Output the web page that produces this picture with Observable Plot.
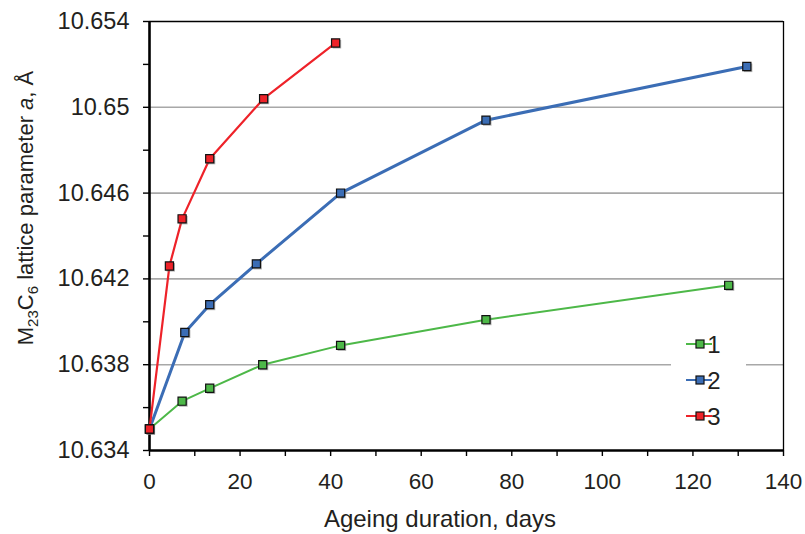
<!DOCTYPE html>
<html>
<head>
<meta charset="utf-8">
<script src="https://cdn.jsdelivr.net/npm/d3@7"></script>
<script src="https://cdn.jsdelivr.net/npm/@observablehq/plot@0.6"></script>
<style>
  html, body { margin: 0; padding: 0; background: #fff; }
  #chart { width: 805px; height: 534px; }
</style>
</head>
<body>
<div id="chart"></div>
<script>
// ---- data ----
const seriesNames = ["1", "2", "3"];
const seriesColors = ["#4db848", "#3b6db5", "#ee2229"];
const seriesWidths = [2, 3, 2.2];

const days1 = [0, 7.2, 13.3, 25.0, 42.2, 74.3, 127.9];
const lat1  = [10.635, 10.6363, 10.6369, 10.6380, 10.6389, 10.6401, 10.6417];

const days2 = [0, 7.8, 13.3, 23.6, 42.2, 74.3, 131.9];
const lat2  = [10.635, 10.6395, 10.6408, 10.6427, 10.6460, 10.6494, 10.6519];

const days3 = [0, 4.4, 7.2, 13.3, 25.2, 41.1];
const lat3  = [10.635, 10.6426, 10.6448, 10.6476, 10.6504, 10.6530];

const xMajorTicks = [0, 20, 40, 60, 80, 100, 120, 140];
const xMinorTicks = [10, 30, 50, 70, 90, 110, 130];
const yMajorTicks = [10.634, 10.638, 10.642, 10.646, 10.65, 10.654];
const yMinorTicks = [10.636, 10.64, 10.644, 10.648, 10.652];
const yGridTicks  = [10.638, 10.642, 10.646, 10.65];

const xTitle = "Ageing duration, days";

// ---- build table ----
const allDays = [days1, days2, days3];
const allLat = [lat1, lat2, lat3];
const rows = seriesNames.map((s, i) => allDays[i].map((d, j) => ({series: s, day: d, a: allLat[i][j]})));
const data = rows.flat();

const font = "'Liberation Sans', Arial, sans-serif";
const textColor = "#231f20";

const lineMarks = rows.map((r, i) => Plot.line(r, {x: "day", y: "a", stroke: seriesColors[i], strokeWidth: seriesWidths[i]}));

const chart = Plot.plot({
  width: 805,
  height: 534,
  marginLeft: 149,
  marginRight: 22,
  marginTop: 21,
  marginBottom: 84,
  style: {fontFamily: font, fontSize: "22px", color: textColor, background: "#fff", overflow: "visible"},
  x: {domain: [0, 140]},
  y: {domain: [10.634, 10.654]},
  color: {domain: seriesNames, range: seriesColors},
  marks: [
    Plot.gridY(yGridTicks, {stroke: "#a8a8a8", strokeOpacity: 1, strokeWidth: 1.6}),
    Plot.ruleY([10.654], {stroke: "#000", strokeWidth: 1.3}),
    Plot.ruleX([140], {stroke: "#000", strokeWidth: 1.3}),
    Plot.axisY(yMajorTicks, {tickSize: 6, tickPadding: 14, strokeWidth: 1.4, stroke: "#000", tickFormat: d3.format(""), label: null, fontSize: 23.5, fill: textColor}),
    Plot.axisY(yMinorTicks, {tickSize: 6, strokeWidth: 1.4, stroke: "#000", tickFormat: () => "", label: null}),
    Plot.axisX(xMajorTicks, {tickSize: 6, tickPadding: 17, strokeWidth: 1.4, stroke: "#000", label: null, fontSize: 22.5, fill: textColor}),
    Plot.axisX(xMinorTicks, {tickSize: 6, strokeWidth: 1.4, stroke: "#000", tickFormat: () => "", label: null}),
    Plot.ruleX([0], {stroke: "#000", strokeWidth: 2.6}),
    Plot.ruleY([10.634], {stroke: "#000", strokeWidth: 2.6}),
    ...lineMarks,
    Plot.dot(data, {x: "day", y: "a", symbol: "square", r: 4.8, fill: "#777", fillOpacity: 0.55, dx: 1.3, dy: 1.3}),
    Plot.dot(data, {x: "day", y: "a", symbol: "square", r: 4.6, fill: "series", stroke: "#111", strokeWidth: 1.2})
  ]
});

document.getElementById("chart").appendChild(chart);

const svg = d3.select(chart);

// x axis title
svg.append("text")
  .attr("x", 440).attr("y", 527)
  .attr("text-anchor", "middle")
  .attr("font-family", font).attr("font-size", 24).attr("fill", textColor)
  .text(xTitle);

// y axis title with subscripts
const yt = svg.append("text")
  .attr("transform", "translate(33,208) rotate(-90)")
  .attr("text-anchor", "middle")
  .attr("font-family", font).attr("font-size", 22).attr("fill", textColor);
yt.append("tspan").text("M");
yt.append("tspan").attr("font-size", 15).attr("dy", 5).text("23");
yt.append("tspan").attr("dy", -5).text("C");
yt.append("tspan").attr("font-size", 15).attr("dy", 5).text("6");
yt.append("tspan").attr("dy", -5).text(" lattice parameter ");
yt.append("tspan").attr("font-style", "italic").text("a");
yt.append("tspan").text(", Å");

// legend
const lg = svg.append("g");
lg.append("rect").attr("x", 671).attr("y", 326).attr("width", 75).attr("height", 106).attr("fill", "#fff");
seriesNames.forEach((s, i) => {
  const cy = 344 + i * 36;
  lg.append("line").attr("x1", 686).attr("x2", 712).attr("y1", cy).attr("y2", cy)
    .attr("stroke", seriesColors[i]).attr("stroke-width", 2);
  lg.append("rect").attr("x", 696).attr("y", cy - 4).attr("width", 8).attr("height", 8)
    .attr("fill", seriesColors[i]).attr("stroke", "#111").attr("stroke-width", 1.2);
  lg.append("text").attr("x", 714).attr("y", cy).attr("dy", "0.36em")
    .attr("font-family", font).attr("font-size", 24).attr("fill", textColor)
    .text(s);
});
</script>
</body>
</html>
